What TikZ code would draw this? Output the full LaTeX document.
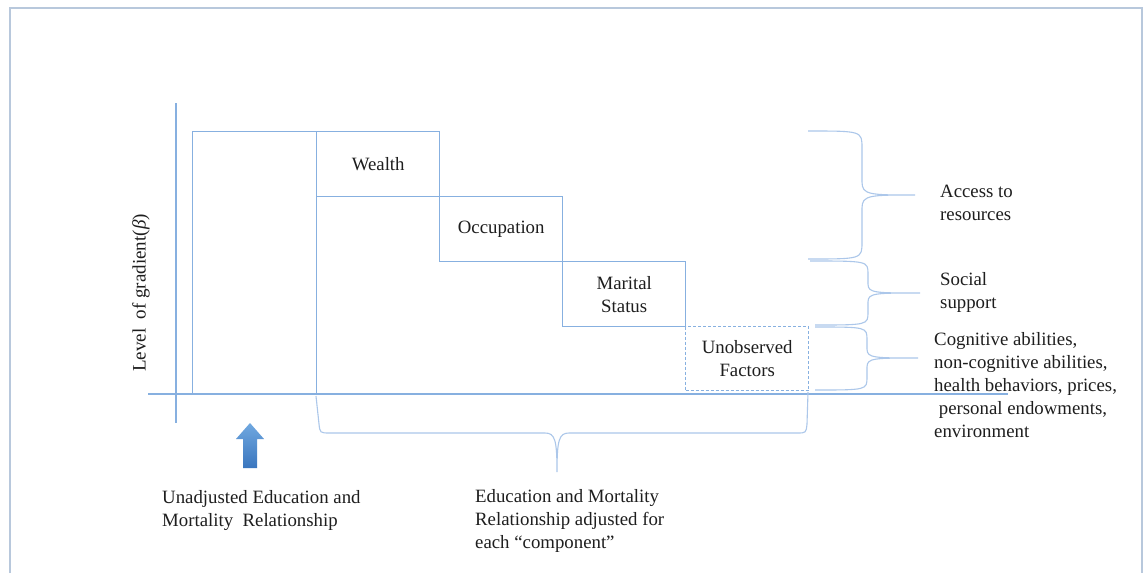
\documentclass[tikz,border=0pt]{standalone}
\usepackage{fontspec}
\setmainfont{Liberation Serif}
\begin{document}
\definecolor{linecol}{RGB}{135,176,224}
\definecolor{bracecol}{RGB}{172,199,234}
\definecolor{framecol}{RGB}{184,200,220}
\definecolor{txtcol}{RGB}{30,30,30}
\definecolor{arrtop}{RGB}{112,168,224}
\definecolor{arrbot}{RGB}{58,118,190}
\tikzset{
  boxst/.style={draw=linecol, line width=1.4pt, inner sep=0pt, anchor=north west,
    align=center, text=txtcol, font=\fontsize{18.8}{23}\selectfont},
  dashbox/.style={boxst, dash pattern=on 3pt off 2pt},
  axisst/.style={draw=linecol, line width=1.4pt},
  bracest/.style={draw=bracecol, line width=1.1pt},
  lbl/.style={inner sep=0pt, anchor=west, align=left, text=txtcol,
    font=\fontsize{18.8}{23}\selectfont},
  framest/.style={draw=framecol, line width=2pt}
}
\begin{tikzpicture}[x=1pt,y=-1pt]
\useasboundingbox (0,0) rectangle (1145,573);
\fill[white] (0,0) rectangle (1145,573);
% outer frame
\draw[framest] (10,573) -- (10,8) -- (1142,8) -- (1142,573);
% axes
\coordinate (ytop) at (176,103);
\coordinate (ybot) at (176,423);
\coordinate (xl) at (148,394);
\coordinate (xr) at (1008,394);
\draw[axisst] (ytop) -- (ybot);
\draw[axisst] (xl) -- (xr);
% boxes
\node[boxst, minimum width=124, minimum height=262] (bar) at (192,131) {};
\node[boxst, minimum width=123, minimum height=65] (wealth) at (316,131) {Wealth};
\node[boxst, minimum width=123, minimum height=65] (occ) at (439,196) {Occupation};
\node[boxst, minimum width=123, minimum height=65] (marital) at (562,261) {Marital\\Status};
\node[dashbox, minimum width=123, minimum height=64] (unobs) at (685,326) {Unobserved\\Factors};
% y label
\node[inner sep=0pt, rotate=90, text=txtcol, font=\fontsize{19}{23}\selectfont] (ylab) at (141,293) {Level\ \ of gradient(\textit{β})};
% right braces
\draw[bracest] (808,131) .. controls (862,131) and (862,131) .. (862,148) -- (862,182)
  .. controls (862,195) and (870,195) .. (915,195)
  .. controls (870,195) and (862,195) .. (862,208) -- (862,242)
  .. controls (862,259) and (862,259) .. (808,259);
\draw[bracest] (810,261) .. controls (868,261) and (868,261) .. (868,274) -- (868,284)
  .. controls (868,293) and (875,293) .. (920,293)
  .. controls (875,293) and (868,293) .. (868,302) -- (868,312)
  .. controls (868,325) and (868,325) .. (815,325);
\draw[bracest] (815,327) .. controls (867,327) and (867,327) .. (867,340) -- (867,349)
  .. controls (867,358) and (874,358) .. (918,358)
  .. controls (874,358) and (867,358) .. (867,367) -- (867,377)
  .. controls (867,390) and (867,390) .. (815,390);
% bottom brace
\draw[bracest] (316,396) -- (319,424) .. controls (320,433) and (320,433) .. (330,433) -- (545,433)
  .. controls (555,433) and (557,440) .. (557,472)
  .. controls (557,440) and (559,433) .. (569,433) -- (797,433)
  .. controls (806,433) and (806,433) .. (807,424) -- (808,392);
% blue arrow
\shade[top color=arrtop, bottom color=arrbot] (243,468) -- (243,439) -- (236,439) -- (250,423)
  -- (264,439) -- (257,439) -- (257,468) -- cycle;
% labels
\node[lbl] (access) at (940,203) {Access to\\resources};
\node[lbl] (social) at (940,292) {Social\\support};
\node[lbl] (cog) at (934,385) {Cognitive abilities,\\non-cognitive abilities,\\health behaviors, prices,\\\ personal endowments,\\environment};
\node[lbl] (unadj) at (162,510) {Unadjusted Education and\\Mortality\ \ Relationship};
\node[lbl] (adj) at (475,521) {Education and Mortality\\Relationship adjusted for\\each “component”};
\end{tikzpicture}
\end{document}
